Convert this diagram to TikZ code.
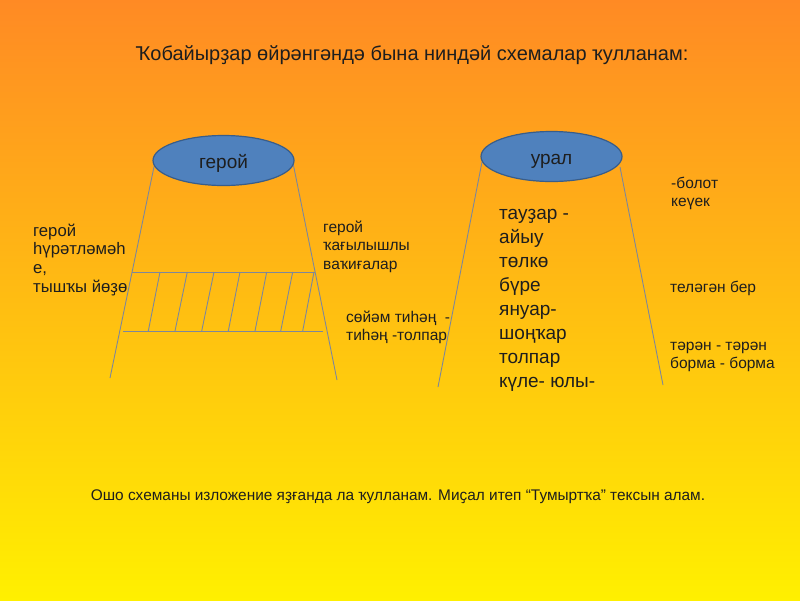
\documentclass[tikz,border=0pt]{standalone}
\usepackage{fontspec}
\setmainfont{Liberation Sans}
\usetikzlibrary{shapes.geometric}
\definecolor{bgtop}{RGB}{255,138,36}
\definecolor{bgmid}{RGB}{255,184,28}
\definecolor{bgbot}{RGB}{255,240,0}
\definecolor{ellfill}{RGB}{79,129,189}
\definecolor{elldraw}{RGB}{56,93,138}
\definecolor{linegray}{RGB}{125,135,155}
\definecolor{txt}{RGB}{30,30,30}
\begin{document}
\begin{tikzpicture}[x=1pt,y=-1pt,
  ell/.style={ellipse, draw=elldraw, fill=ellfill, line width=1.2pt, minimum width=141pt, minimum height=50pt, inner sep=0pt, text=txt, font=\fontsize{19}{21}\selectfont, text height=15.5pt, text depth=0pt},
  edge/.style={draw=linegray, line width=0.9pt},
  small/.style={anchor=north west, inner sep=0pt, align=left, text=txt, font=\fontsize{15.5}{18.5}\selectfont},
  big/.style={anchor=north west, inner sep=0pt, align=left, text=txt, font=\fontsize{19}{24}\selectfont},
  line/.style={anchor=base, inner sep=0pt, text=txt}
]
\shade[top color=bgtop, middle color=bgmid, bottom color=bgbot] (0,0) rectangle (800,600);
\useasboundingbox (0,0) rectangle (800,600);

% title
\node[line, font=\fontsize{20}{23}\selectfont] (title) at (412,60) {Ҡобайырҙар өйрәнгәндә бына ниндәй схемалар ҡулланам:};

% left figure
\coordinate (lbl) at (110,378);
\coordinate (lbr) at (337,380);
\draw[edge] (155,162) -- (lbl);
\draw[edge] (293,163) -- (lbr);
\draw[edge] (132,272) -- (315,272);
\draw[edge] (123,331) -- (323,331);
\foreach \t/\b in {160/148.3,187.3/175,214/201.7,240/228.3,266.7/255,292.7/280.7,314/302.7}
  \draw[edge] (\t,272) -- (\b,331);
\node[ell] (hero) at (223.5,160.5) {герой};

% right figure
\coordinate (rbl) at (438,387);
\coordinate (rbr) at (663,385);
\draw[edge] (482,162) -- (rbl);
\draw[edge] (620,167) -- (rbr);
\node[ell] (ural) at (551.5,156.5) {урал};

% labels left
\node[small, font=\fontsize{16.7}{18.8}\selectfont] (l1) at (33,236-13.2) {\strut герой\\һүрәтләмәһ\\е,\\тышҡы йөҙө};
\node[small] (l2) at (323,232-12.9) {\strut герой\\ҡағылышлы\\ваҡиғалар};
\node[small] (l3) at (346,322-12.9) {\strut сөйәм тиһәң~ -\\тиһәң -толпар};

% right list
\node[big] (list) at (499,219-16.8) {\strut тауҙар -\\айыу\\төлкө\\бүре\\януар-\\шоңҡар\\толпар\\күле- юлы-};

% right labels
\node[small] (r1) at (671,188-12.9) {\strut -болот\\кеүек};
\node[small] (r2) at (670,292-12.9) {\strut теләгән бер};
\node[small] (r3) at (670,350-12.9) {\strut тәрән - тәрән\\борма - борма};

% bottom
\node[line, font=\fontsize{15.4}{18}\selectfont] (bottom) at (398,500) {Ошо схеманы изложение яҙғанда ла ҡулланам. Миҫал итеп “Тумыртҡа” тексын алам.};
\end{tikzpicture}
\end{document}
